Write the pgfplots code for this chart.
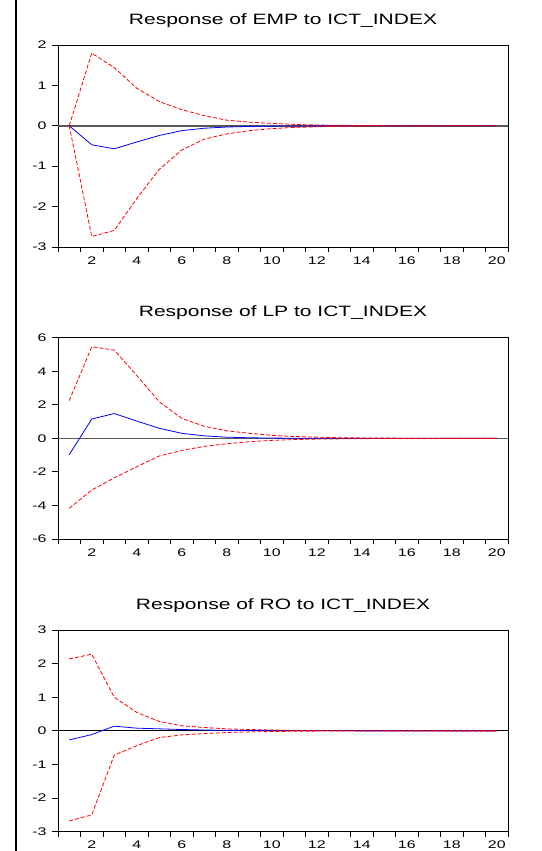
\documentclass[border=0pt]{standalone}
\usepackage{pgfplots}
\usepackage{pgfplotstable}
\pgfplotsset{compat=1.18}
\usepackage{fontspec}
\setmainfont{Liberation Sans}
\newfontfamily\widefont[FakeStretch=1.45]{Liberation Sans}
\newfontfamily\titlefont[FakeStretch=1.4]{Liberation Sans}

\pgfplotstableread{
x mid up lo
1 0 0 0
2 -0.47 1.80 -2.74
3 -0.57 1.44 -2.59
4 -0.40 0.93 -1.80
5 -0.24 0.60 -1.08
6 -0.12 0.40 -0.60
7 -0.06 0.25 -0.33
8 -0.03 0.14 -0.20
9 -0.015 0.09 -0.12
10 -0.008 0.06 -0.07
11 -0.004 0.035 -0.04
12 -0.002 0.02 -0.025
13 -0.001 0.012 -0.015
14 0 0.007 -0.008
15 0 0.004 -0.005
16 0 0.002 -0.003
17 0 0.001 -0.002
18 0 0.001 -0.001
19 0 0 0
20 0 0 0
}\emp

\pgfplotstableread{
x mid up lo
1 -0.97 2.25 -4.17
2 1.15 5.46 -3.08
3 1.48 5.26 -2.35
4 1.03 3.75 -1.69
5 0.60 2.18 -1.05
6 0.30 1.19 -0.72
7 0.15 0.72 -0.48
8 0.07 0.45 -0.32
9 0.035 0.30 -0.20
10 0.016 0.18 -0.12
11 0.008 0.11 -0.07
12 0.004 0.07 -0.045
13 0.002 0.04 -0.03
14 0.001 0.025 -0.018
15 0 0.015 -0.01
16 0 0.009 -0.006
17 0 0.005 -0.004
18 0 0.003 -0.002
19 0 0.002 -0.001
20 0 0.001 0
}\lp

\pgfplotstableread{
x mid up lo
1 -0.27 2.14 -2.68
2 -0.11 2.28 -2.50
3 0.14 1.00 -0.72
4 0.08 0.55 -0.44
5 0.06 0.28 -0.20
6 0.04 0.15 -0.12
7 0.025 0.10 -0.08
8 0.015 0.06 -0.05
9 0.01 0.04 -0.03
10 0.006 0.025 -0.02
11 0.004 0.015 -0.012
12 0.002 0.01 -0.007
13 0.001 0.006 -0.004
14 0 0.004 -0.002
15 0 0.002 -0.001
16 0 0.001 0
17 0 0.001 0
18 0 0 0
19 0 0 0
20 0 0 0
}\ro

\pgfplotsset{irf/.style={
  scale only axis, width=450pt,
  xmin=0.5, xmax=20.5,
  xtick={2,4,...,20},
  minor xtick={0.5,1.5,...,20.5},
  major x tick style={draw=none},
  tick align=outside,
  major tick length=6pt, minor tick length=5pt,
  xtick pos=bottom, ytick pos=left,
  axis line style={line width=0.9pt},
  tick style={black, line width=0.9pt},
  tick label style={font=\widefont\fontsize{11}{13}\selectfont},
  yticklabel style={xshift=-2pt},
  /pgf/number format/assume math mode=true,
  title style={font=\titlefont\fontsize{15}{18}\selectfont, at={(0.5,1)}, anchor=base, yshift=15pt},
  clip=false,
}}

\begin{document}
\begin{tikzpicture}
\path[use as bounding box] (0,0) rectangle (541pt,-851pt);
\draw[line width=2.2pt] (16pt,0) -- (16pt,-851pt);

\begin{axis}[irf, at={(58pt,-247pt)}, anchor=south west, height=202pt,
  ymin=-3, ymax=2, ytick={-3,...,2}, title={Response of EMP to ICT\_INDEX}]
\addplot[gray!70!black, line width=1.4pt] coordinates {(0.5,0) (20.5,0)};
\addplot[blue, line width=0.8pt] table[x=x,y=mid] {\emp};
\addplot[red, line width=0.8pt, dash pattern=on 4pt off 2pt] table[x=x,y=up] {\emp};
\addplot[red, line width=0.8pt, dash pattern=on 4pt off 2pt] table[x=x,y=lo] {\emp};
\end{axis}

\begin{axis}[irf, at={(58pt,-539pt)}, anchor=south west, height=201.3pt,
  ymin=-6, ymax=6, ytick={-6,-4,...,6}, title={Response of LP to ICT\_INDEX}]
\addplot[gray!70!black, line width=1.4pt] coordinates {(0.5,0) (20.5,0)};
\addplot[blue, line width=0.8pt] table[x=x,y=mid] {\lp};
\addplot[red, line width=0.8pt, dash pattern=on 4pt off 2pt] table[x=x,y=up] {\lp};
\addplot[red, line width=0.8pt, dash pattern=on 4pt off 2pt] table[x=x,y=lo] {\lp};
\end{axis}

\begin{axis}[irf, at={(58pt,-831.7pt)}, anchor=south west, height=201.7pt,
  ymin=-3, ymax=3, ytick={-3,...,3}, title={Response of RO to ICT\_INDEX}]
\addplot[black, line width=0.8pt] coordinates {(0.5,0) (20.5,0)};
\addplot[blue, line width=0.8pt] table[x=x,y=mid] {\ro};
\addplot[red, line width=0.8pt, dash pattern=on 4pt off 2pt] table[x=x,y=up] {\ro};
\addplot[red, line width=0.8pt, dash pattern=on 4pt off 2pt] table[x=x,y=lo] {\ro};
\end{axis}
\end{tikzpicture}
\end{document}
